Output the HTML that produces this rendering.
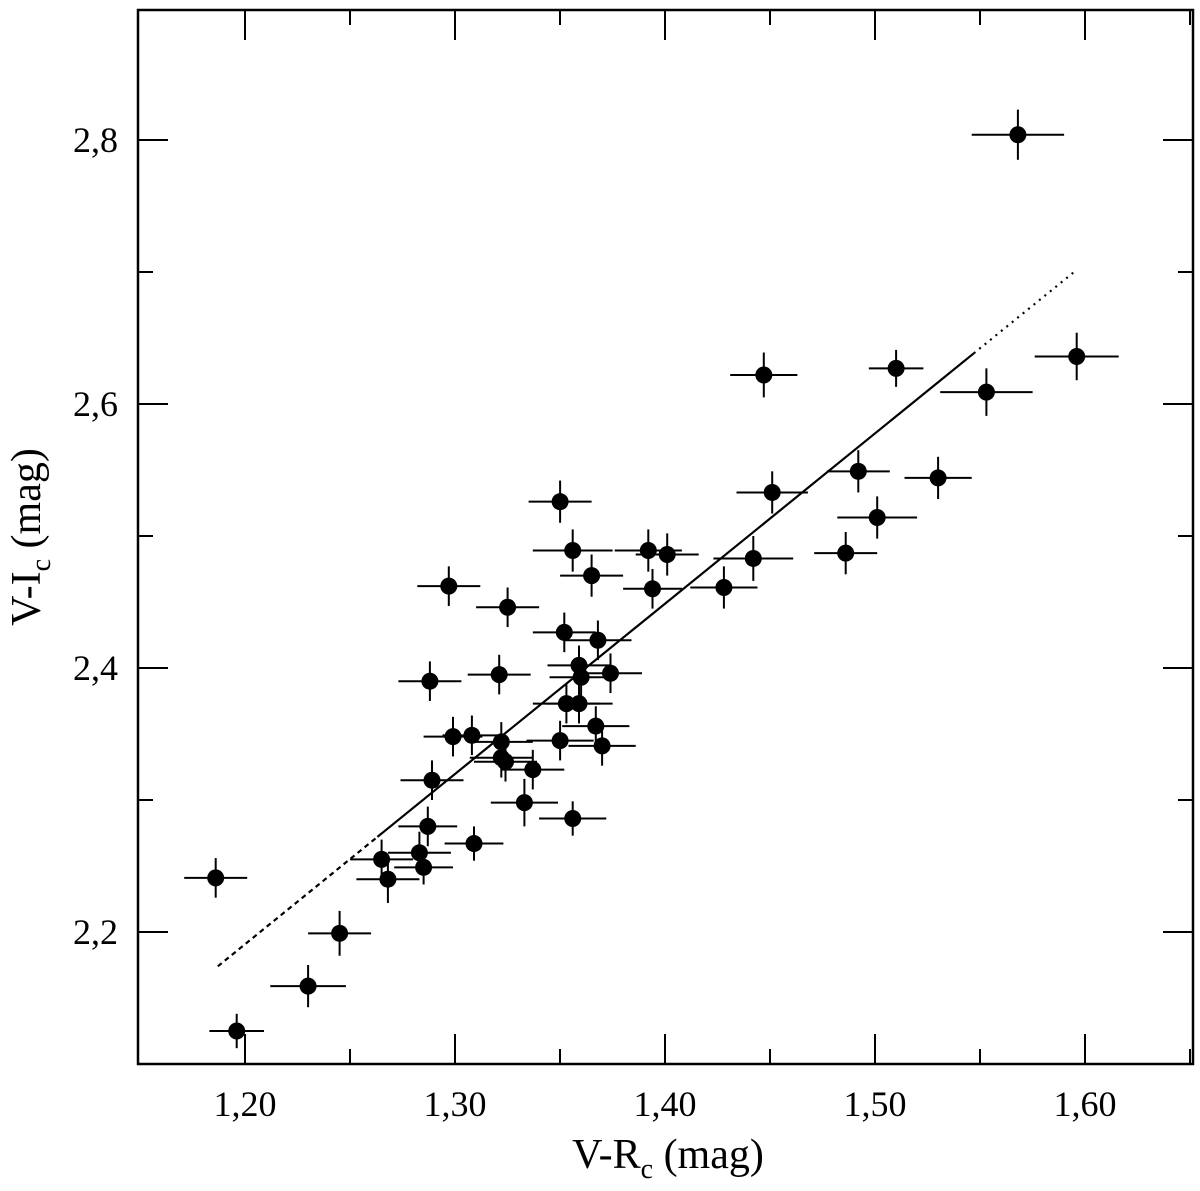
<!DOCTYPE html>
<html><head><meta charset="utf-8"><style>
body{margin:0;background:#fff}
svg text{font-family:"Liberation Serif",serif;fill:#000}
</style></head><body>
<svg id="chart" width="1200" height="1186" xmlns="http://www.w3.org/2000/svg">
<g id="axes"></g>
<g id="fit"></g>
<g id="pts"></g>
<text x="668" y="1168" font-size="42" text-anchor="middle">V-R<tspan font-size="28" dy="10">c</tspan><tspan dy="-10">  (mag)</tspan></text>
<text transform="translate(40,537) rotate(-90)" font-size="42" text-anchor="middle">V-I<tspan font-size="28" dy="10">c</tspan><tspan dy="-10"> (mag)</tspan></text>
</svg>
<script>
const xVals=[1.569,1.597,1.554,1.511,1.448,1.531,1.493,1.452,1.502,1.487,1.443,1.429,1.351,1.357,1.393,1.402,1.366,1.395,1.298,1.326,1.353,1.369,1.360,1.322,1.289,1.375,1.361,1.354,1.360,1.300,1.309,1.323,1.368,1.351,1.371,1.323,1.325,1.338,1.290,1.334,1.357,1.288,1.310,1.284,1.266,1.286,1.269,1.187,1.246,1.231,1.197];
const yVals=[2.804,2.636,2.609,2.627,2.622,2.544,2.549,2.533,2.514,2.487,2.483,2.461,2.526,2.489,2.489,2.486,2.470,2.460,2.462,2.446,2.427,2.421,2.402,2.395,2.390,2.396,2.393,2.373,2.373,2.348,2.349,2.344,2.356,2.345,2.341,2.332,2.329,2.323,2.315,2.298,2.286,2.280,2.267,2.260,2.255,2.249,2.240,2.241,2.199,2.159,2.125];
const xErr=[0.022,0.02,0.022,0.013,0.016,0.016,0.015,0.017,0.019,0.015,0.019,0.016,0.015,0.019,0.016,0.015,0.015,0.014,0.015,0.015,0.015,0.016,0.015,0.015,0.015,0.015,0.015,0.016,0.016,0.014,0.014,0.015,0.016,0.016,0.016,0.015,0.015,0.015,0.015,0.016,0.016,0.014,0.014,0.015,0.015,0.014,0.015,0.015,0.015,0.018,0.013];
const yErr=[0.019,0.018,0.018,0.014,0.017,0.016,0.016,0.016,0.016,0.016,0.017,0.016,0.016,0.016,0.016,0.016,0.016,0.015,0.015,0.015,0.015,0.015,0.015,0.015,0.015,0.015,0.015,0.015,0.015,0.015,0.015,0.015,0.015,0.015,0.015,0.015,0.015,0.015,0.015,0.018,0.013,0.015,0.013,0.016,0.015,0.013,0.018,0.015,0.017,0.016,0.013];
const xTicks=[1.20,1.30,1.40,1.50,1.60];
const xTickLabels=["1,20","1,30","1,40","1,50","1,60"];
const yTicks=[2.2,2.4,2.6,2.8];
const yTickLabels=["2,2","2,4","2,6","2,8"];
const fitX=[1.188,1.597];
const fitSlope=1.29, fitIntercept=2.174-1.29*1.188;
const L=138,R=1193,T=10,B=1064;
const X=v=>245+(v-1.20)*2100;
const XD=v=>243+(v-1.20)*2100;
const Y=v=>932-(v-2.2)*1320;
const NS="http://www.w3.org/2000/svg";
function mk(parent,tag,at){const e=document.createElementNS(NS,tag);for(const k in at)e.setAttribute(k,at[k]);parent.appendChild(e);return e;}
const ax=document.getElementById('axes');
const fr=mk(ax,'rect',{x:L,y:T,width:R-L,height:B-T,fill:'none',stroke:'#000','stroke-width':2.5});


for(let v=1.15;v<=1.651;v+=0.05){
  const x=X(v);const major=Math.abs(Math.round(v*10)-v*10)<1e-6;const len=major?30:15;
  if(x<L+2||x>R-2)continue;
  const t1=mk(ax,'line',{x1:x,y1:B,x2:x,y2:B-len,stroke:'#000','stroke-width':2});
  
  
  const t2=mk(ax,'line',{x1:x,y1:T,x2:x,y2:T+len,stroke:'#000','stroke-width':2});
  
  
}
for(let v=2.1;v<=2.9;v+=0.1){
  const y=Y(v);const major=Math.round(v*10)%2===0;const len=major?30:15;
  if(y<T+2||y>B-2)continue;
  const t1=mk(ax,'line',{x1:L,y1:y,x2:L+len,y2:y,stroke:'#000','stroke-width':2});
  
  
  const t2=mk(ax,'line',{x1:R,y1:y,x2:R-len,y2:y,stroke:'#000','stroke-width':2});
  
  
}
xTicks.forEach((v,i)=>{const t=mk(ax,'text',{x:X(v),y:1116,'font-size':36,'text-anchor':'middle'});t.textContent=xTickLabels[i];
  
  });
yTicks.forEach((v,i)=>{const t=mk(ax,'text',{x:118,y:Y(v)+12,'font-size':36,'text-anchor':'end'});t.textContent=yTickLabels[i];
  
  });
const fit=document.getElementById('fit');
const fy=x=>fitSlope*x+fitIntercept;
const segs=[[fitX[0],1.264,'5,4'],[1.264,1.548,''],[1.548,fitX[1],'2,5']];
segs.forEach(s=>{const l=mk(fit,'line',{x1:XD(s[0]),y1:Y(fy(s[0])),x2:XD(s[1]),y2:Y(fy(s[1])),stroke:'#000','stroke-width':2.2,'stroke-dasharray':s[2]});
  
  });
const pts=document.getElementById('pts');
xVals.forEach((xv,i)=>{const g=mk(pts,'g',{});
  
  
  const cx=XD(xv),cy=Y(yVals[i]);
  mk(g,'line',{x1:XD(xv-xErr[i]),y1:cy,x2:XD(xv+xErr[i]),y2:cy,stroke:'#000','stroke-width':2});
  mk(g,'line',{x1:cx,y1:Y(yVals[i]-yErr[i]),x2:cx,y2:Y(yVals[i]+yErr[i]),stroke:'#000','stroke-width':2});
  mk(g,'circle',{cx:cx,cy:cy,r:8.5,fill:'#000'});
});
</script>
</body></html>
